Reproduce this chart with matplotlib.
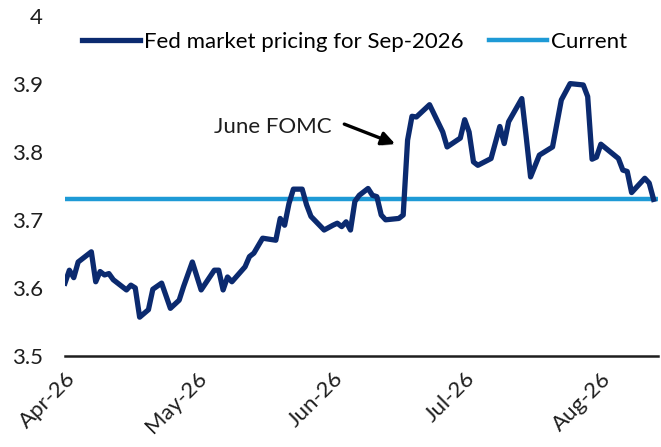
import matplotlib
matplotlib.use("Agg")
import matplotlib.pyplot as plt
import matplotlib.patheffects as pe
import pandas as pd

dates = ["2026-04-01", "2026-04-02", "2026-04-03", "2026-04-04", "2026-04-07",
         "2026-04-08", "2026-04-09", "2026-04-10", "2026-04-11", "2026-04-12",
         "2026-04-15", "2026-04-16", "2026-04-17", "2026-04-18", "2026-04-20",
         "2026-04-21", "2026-04-23", "2026-04-25", "2026-04-27", "2026-04-28",
         "2026-04-30", "2026-05-02", "2026-05-05", "2026-05-06", "2026-05-07",
         "2026-05-08", "2026-05-09", "2026-05-12", "2026-05-13", "2026-05-14",
         "2026-05-16", "2026-05-19", "2026-05-20", "2026-05-21", "2026-05-22",
         "2026-05-23", "2026-05-25", "2026-05-26", "2026-05-27", "2026-05-30",
         "2026-06-01", "2026-06-02", "2026-06-03", "2026-06-04", "2026-06-05",
         "2026-06-06", "2026-06-07", "2026-06-09", "2026-06-10", "2026-06-11",
         "2026-06-12", "2026-06-13", "2026-06-16", "2026-06-17", "2026-06-18",
         "2026-06-19", "2026-06-20", "2026-06-23", "2026-06-26", "2026-06-27",
         "2026-06-30", "2026-07-01", "2026-07-02", "2026-07-03", "2026-07-04",
         "2026-07-07", "2026-07-09", "2026-07-10", "2026-07-11", "2026-07-14",
         "2026-07-15", "2026-07-16", "2026-07-18", "2026-07-21", "2026-07-23",
         "2026-07-25", "2026-07-28", "2026-07-29", "2026-07-30", "2026-07-31",
         "2026-08-01", "2026-08-05", "2026-08-06", "2026-08-07", "2026-08-08",
         "2026-08-11", "2026-08-12", "2026-08-13"]
pricing = [3.607, 3.626, 3.615, 3.638, 3.653,
           3.609, 3.624, 3.619, 3.621, 3.612,
           3.597, 3.604, 3.600, 3.557, 3.568,
           3.598, 3.607, 3.570, 3.582, 3.602,
           3.638, 3.597, 3.626, 3.626, 3.597,
           3.616, 3.609, 3.631, 3.646, 3.651,
           3.673, 3.670, 3.702, 3.692, 3.724,
           3.745, 3.745, 3.722, 3.705, 3.685,
           3.692, 3.695, 3.690, 3.697, 3.685,
           3.727, 3.736, 3.746, 3.736, 3.734,
           3.707, 3.700, 3.702, 3.707, 3.817,
           3.852, 3.851, 3.869, 3.829, 3.807,
           3.820, 3.847, 3.829, 3.785, 3.780,
           3.790, 3.837, 3.812, 3.844, 3.878,
           3.822, 3.763, 3.795, 3.807, 3.876,
           3.900, 3.898, 3.881, 3.789, 3.792,
           3.811, 3.790, 3.773, 3.771, 3.740,
           3.761, 3.754, 3.730]
current = 3.73
month_ticks = ["2026-04-01", "2026-05-01", "2026-06-01", "2026-07-01", "2026-08-01"]
month_labels = ["Apr-26", "May-26", "Jun-26", "Jul-26", "Aug-26"]

navy = "#0B2A6F"
light = "#1E9AD6"
ink = "#1E1E1E"

plt.rcParams['font.family'] = ['Lato', 'DejaVu Sans']

x = pd.to_datetime(dates)
fig = plt.figure(figsize=(6.61, 4.47), dpi=100)
ax = fig.add_axes([0.0983, 0.2036, 0.8971, 0.7617])

ax.axhline(current, color=light, lw=3.2, label="Current", zorder=2)
ax.plot(x, pricing, color=navy, lw=3.8, label="Fed market pricing for Sep-2026",
        zorder=3, solid_joinstyle='round')

ax.set_ylim(3.5, 4.0)
ax.set_yticks([3.5, 3.6, 3.7, 3.8, 3.9, 4.0])
ax.set_yticklabels(["3.5", "3.6", "3.7", "3.8", "3.9", "4"])
ax.set_xlim(pd.Timestamp("2026-04-01"), pd.Timestamp("2026-08-14"))
ax.set_xticks(pd.to_datetime(month_ticks))
ax.set_xticklabels(month_labels, rotation=45, ha='right', rotation_mode='anchor')
ax.tick_params(axis='both', length=0, labelsize=16, colors=ink)
ax.tick_params(axis='y', pad=16)
ax.tick_params(axis='x', pad=9)

for s in ['top', 'right', 'left']:
    ax.spines[s].set_visible(False)
ax.spines['bottom'].set_color(ink)
ax.spines['bottom'].set_linewidth(1.8)

handles, labels = ax.get_legend_handles_labels()
ax.legend(handles[::-1], labels[::-1], loc='center', bbox_to_anchor=(0.488, 0.922),
          ncol=2, frameon=False, fontsize=16, handlelength=2.6, handletextpad=0.18,
          columnspacing=1.15, borderpad=0, borderaxespad=0)

ax.text(pd.Timestamp("2026-05-05"), 3.836, "June FOMC", fontsize=16,
        va='center', ha='left', color=ink)
arr = ax.annotate("", xy=(pd.Timestamp("2026-06-15 18:00"), 3.810),
                  xytext=(pd.Timestamp("2026-06-03"), 3.842),
                  arrowprops=dict(arrowstyle='-|>', color='black', lw=2.4,
                                  mutation_scale=20))
arr.arrow_patch.set_path_effects([pe.SimplePatchShadow(offset=(1.5, -1.5), alpha=0.35),
                                  pe.Normal()])

fig.savefig("out.png", dpi=100)
